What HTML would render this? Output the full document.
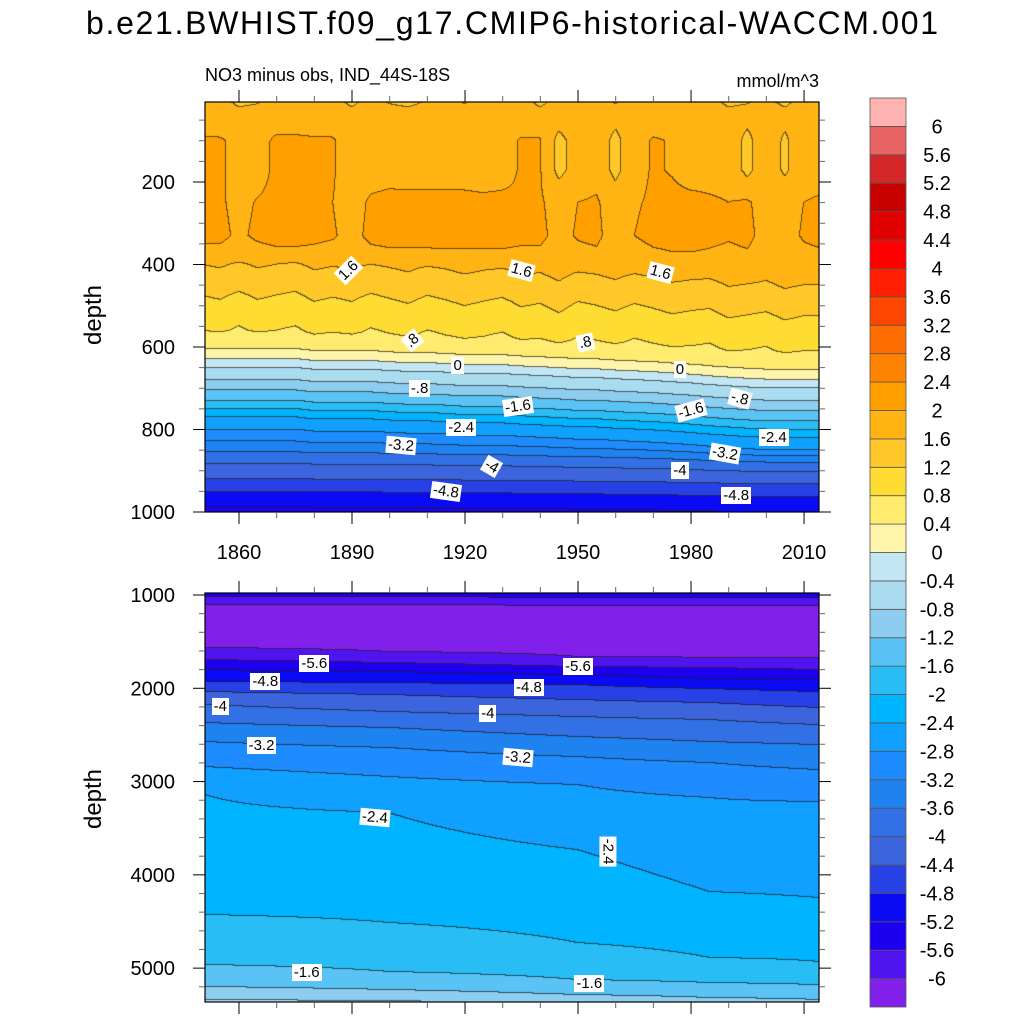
<!DOCTYPE html>
<html><head><meta charset="utf-8">
<style>
html,body{margin:0;padding:0;background:#fff;}
#root{position:relative;width:1024px;height:1024px;overflow:hidden;font-family:"Liberation Sans",sans-serif;}
canvas{position:absolute;}
.lbl{position:absolute;background:#fff;font-size:15px;line-height:15px;padding:1px 2px;color:#000;transform-origin:center center;white-space:nowrap;}
svg{position:absolute;left:0;top:0;}
</style></head>
<body>
<div id="root">
<canvas id="topCanvas" width="614" height="410" style="left:205px;top:102px"></canvas>
<canvas id="botCanvas" width="614" height="409" style="left:205px;top:593px"></canvas>
<svg id="ov" width="1024" height="1024">
<text x="512" y="34" font-size="32" text-anchor="middle" textLength="852" font-family="Liberation Sans, sans-serif">b.e21.BWHIST.f09_g17.CMIP6-historical-WACCM.001</text>
<text x="205" y="81" font-size="18" font-family="Liberation Sans, sans-serif">NO3 minus obs, IND_44S-18S</text>
<text x="819" y="87" font-size="18" text-anchor="end" font-family="Liberation Sans, sans-serif">mmol/m^3</text>
<text transform="translate(101,315) rotate(-90)" font-size="24" text-anchor="middle" font-family="Liberation Sans, sans-serif">depth</text>
<text transform="translate(101,799) rotate(-90)" font-size="24" text-anchor="middle" font-family="Liberation Sans, sans-serif">depth</text>
</svg>
</div>
<script>
// ---------- colour scale ----------
const levels=[-6,-5.6,-5.2,-4.8,-4.4,-4,-3.6,-3.2,-2.8,-2.4,-2,-1.6,-1.2,-0.8,-0.4,0,0.4,0.8,1.2,1.6,2,2.4,2.8,3.2,3.6,4,4.4,4.8,5.2,5.6,6];
const levelLabels=["-6","-5.6","-5.2","-4.8","-4.4","-4","-3.6","-3.2","-2.8","-2.4","-2","-1.6","-1.2","-0.8","-0.4","0","0.4","0.8","1.2","1.6","2","2.4","2.8","3.2","3.6","4","4.4","4.8","5.2","5.6","6"];
const bandColors=["#8220eb","#5014f0","#1e00f0","#0a0af5","#2841e6","#3c64dc","#3270e6","#1e82f0","#1e8cff","#10a0ff","#00b4ff","#28bef5","#5ac3f5","#8ccdf0","#aadcf0","#c3e6f5","#fff5aa","#ffeb6e","#ffdc32","#ffc828","#ffb414","#ffa000","#ff8200","#ff6e00","#ff4600","#ff1e00","#ff0000","#e00000","#c80000","#d42828","#e86464","#ffb2b2"];

// ---------- top panel data (0-1000 m) ----------
const topYears=[1850,1855,1860,1865,1870,1875,1880,1885,1890,1895,1900,1905,1910,1915,1920,1925,1930,1935,1940,1945,1950,1955,1960,1965,1970,1975,1980,1985,1990,1995,2000,2005,2010,2015];
const topNodeDepths=[5,40,100,170,250,330,370,400,475,560,605,629,650,680,705,730,750,770,800,829,855,883,920,951,988,1020];
const topNodeValues=[1.72,1.8,1.88,1.88,1.92,1.95,1.85,1.6,1.2,0.8,0.4,0,-0.4,-0.8,-1.2,-1.6,-2,-2.4,-2.8,-3.2,-3.6,-4,-4.4,-4.8,-5.2,-5.4];
const surfAnom=[0.1,0,-0.2,-0.15,0.05,0,0.05,0,-0.2,0,-0.15,-0.2,-0.1,0.05,-0.15,0.05,0,0,-0.2,0,0,0.05,-0.15,0,0.05,0,0.05,0,-0.2,-0.15,-0.05,-0.2,0,-0.1];
const upperAnom=[0.15,0.15,0.05,0,0.18,0.18,0.15,0.15,-0.05,0,0.02,0,0,0,0,-0.05,0,0.15,0.15,-0.4,-0.1,0,-0.4,0,0.15,0.1,0,0,0,-0.4,0,-0.35,0,0];
const lowerAnom=[0.12,0.12,0,0.1,0.15,0.15,0.12,0.08,-0.05,0.12,0.15,0.15,0.15,0.15,0.15,0.15,0.15,0.12,0.12,-0.05,0.08,0.12,-0.1,0.05,0.12,0.15,0.15,0.12,0.08,0.12,-0.05,-0.05,0.08,0.12];
const midAnom=[0,0.05,-0.05,0.05,0,-0.05,0.05,0,0.05,-0.05,0,0.05,-0.05,0,0.05,0,-0.05,0.05,0,0.1,-0.05,0,0.05,-0.05,0,0.05,0,-0.05,0.05,0,-0.05,0.05,0,0];
const thermoShift=[0,0,0,0,0,0,5,5,5,5,8,10,10,12,15,15,15,18,20,22,25,25,28,30,32,35,38,42,45,48,50,50,50,50];
const shiftWeight=[0,0,0,0,0,0,0.5,1,1,1,1,1,1,1,1,1,1,1,1,0.7,0.5,0.4,0.25,0.25,0.25,0.25];

// ---------- bottom panel data (1000-5400 m) ----------
const botYears=[1851,1900,1950,1985,2014];
const botNodeValues=[-5.3,-5.6,-6.0,-6.3,-6.0,-5.6,-5.2,-4.8,-4.4,-4.0,-3.6,-3.2,-2.8,-2.4,-2.0,-1.6,-1.2,-0.8];
const depths1851=[980,1021,1107,1322,1568,1697,1804,1933,2040,2179,2372,2576,2844,3144,4430,4966,5202,5341];
const depths1900=[980,1025,1110,1340,1611,1729,1825,1943,2072,2254,2426,2640,2951,3337,4516,5041,5234,5352];
const depths1950=[980,1028,1113,1360,1665,1772,1858,1965,2126,2308,2522,2737,3037,3734,4731,5127,5288,5380];
const depths1985=[980,1030,1115,1370,1675,1783,1900,2008,2158,2340,2576,2801,3176,4184,4891,5159,5320,5395];
const depths2014=[980,1032,1118,1375,1675,1804,1911,2040,2211,2394,2608,2876,3219,4248,4934,5181,5341,5449];
const botDepthCols=[depths1851,depths1900,depths1950,depths1985,depths2014];

// ---------- axis tick data ----------
const xMajorYears=[1860,1890,1920,1950,1980,2010];
const topDepthTicks=[200,400,600,800,1000];
const botDepthTicks=[1000,2000,3000,4000,5000];

// contour label annotations [text, year, depth, angle]
const topLabels=[["1.6",1889,415,-45],["1.6",1935,415,15],["1.6",1972,420,15],[".8",1906,585,-40],[".8",1952,590,-12],["0",1918,645,0],["0",1977,655,0],["-.8",1908,700,0],["-.8",1993,725,15],["-1.6",1934,745,-8],["-1.6",1980,755,-15],["-2.4",1919,795,0],["-2.4",2002,820,0],["-3.2",1903,838,5],["-3.2",1989,858,10],["-4",1927,890,30],["-4",1977,900,0],["-4.8",1915,950,8],["-4.8",1992,960,0]];
const botLabels=[["-5.6",1880,1730,0],["-5.6",1950,1770,0],["-4.8",1867,1930,0],["-4.8",1937,1990,0],["-4",1855,2190,0],["-4",1926,2270,0],["-3.2",1866,2610,0],["-3.2",1934,2740,5],["-2.4",1896,3380,5],["-2.4",1958,3750,90],["-1.6",1878,5045,0],["-1.6",1953,5160,0]];

// ---------- scales ----------
function xOfYear(y){return 239+(y-1860)*3.767;}
function yearOfX(x){return 1860+(x-239)/3.767;}
function yTop(d){return 99.5+d*0.4125;}
function dTop(y){return (y-99.5)/0.4125;}
function yBot(d){return 595+(d-1000)/10.72;}
function dBot(y){return 1000+(y-595)*10.72;}

function bandOf(v){let b=0;for(const l of levels){if(v>=l)b++;}return b;}
function hexRgb(h){return [parseInt(h.slice(1,3),16),parseInt(h.slice(3,5),16),parseInt(h.slice(5,7),16)];}
const rgbBands=bandColors.map(hexRgb);

function interpProfile(ds,vs,d){
  if(d<=ds[0])return vs[0];
  for(let k=0;k<ds.length-1;k++){
    if(d<=ds[k+1]){const t=(d-ds[k])/(ds[k+1]-ds[k]);return vs[k]+t*(vs[k+1]-vs[k]);}
  }
  const n=ds.length;const s=(vs[n-1]-vs[n-2])/(ds[n-1]-ds[n-2]);
  return vs[n-1]+(d-ds[n-1])*s;
}
function topColumn(j){
  const ds=[],vs=[];
  for(let k=0;k<topNodeDepths.length;k++){
    ds.push(topNodeDepths[k]+thermoShift[j]*shiftWeight[k]);
    let v=topNodeValues[k];
    if(k===0)v+=surfAnom[j];
    else if(k===1)v+=0.4*surfAnom[j];
    else if(k<=3)v+=upperAnom[j];
    else if(k<=5)v+=lowerAnom[j];
    else if(k===6)v+=0.7*lowerAnom[j];
    else if(k>=7&&k<=9)v+=midAnom[j];
    vs.push(v);
  }
  return [ds,vs];
}

function renderPanel(canvasId,x0,y0,W,H,yearsArr,colFn,depthFn){
  const cv=document.getElementById(canvasId);const ctx=cv.getContext('2d');
  const tables=yearsArr.map((yr,j)=>{const [ds,vs]=colFn(j);const t=new Float32Array(H);for(let r=0;r<H;r++){t[r]=interpProfile(ds,vs,depthFn(y0+r+0.5));}return t;});
  const bands=new Int16Array(W*H);
  for(let c=0;c<W;c++){
    const yr=yearOfX(x0+c+0.5);
    let j=0;while(j<yearsArr.length-2&&yr>yearsArr[j+1])j++;
    let t=(yr-yearsArr[j])/(yearsArr[j+1]-yearsArr[j]);t=Math.max(0,Math.min(1,t));
    const A=tables[j],B=tables[j+1];
    for(let r=0;r<H;r++){bands[r*W+c]=bandOf(A[r]*(1-t)+B[r]*t);}
  }
  const img=ctx.createImageData(W,H);
  for(let r=0;r<H;r++)for(let c=0;c<W;c++){
    const b=bands[r*W+c];let col=rgbBands[b];
    let edge=(c<W-1&&bands[r*W+c+1]!==b)||(r<H-1&&bands[(r+1)*W+c]!==b);
    const i=(r*W+c)*4;
    if(edge){img.data[i]=col[0]*0.3+20;img.data[i+1]=col[1]*0.3+20;img.data[i+2]=col[2]*0.3+20;}
    else{img.data[i]=col[0];img.data[i+1]=col[1];img.data[i+2]=col[2];}
    img.data[i+3]=255;
  }
  ctx.putImageData(img,0,0);
}
renderPanel('topCanvas',205,102,614,410,topYears,topColumn,dTop);
renderPanel('botCanvas',205,593,614,409,botYears,j=>[botDepthCols[j],botNodeValues],dBot);

// ---------- overlay ----------
const NS='http://www.w3.org/2000/svg';
const ov=document.getElementById('ov');
function mk(tag,attrs){const e=document.createElementNS(NS,tag);for(const k in attrs)e.setAttribute(k,attrs[k]);ov.appendChild(e);return e;}

function frame(y0,y1,name){
  const r=mk('rect',{x:205,y:y0,width:614,height:y1-y0,fill:'none',stroke:'#000','stroke-width':1.2});
  
  
}
frame(102,512,'top-plot-frame');
frame(593,1002,'bottom-plot-frame');

for(let yr=1860;yr<=2010;yr+=10){
  const x=xOfYear(yr);const major=xMajorYears.includes(yr);const L=major?12:6;
  for(const [ya,dir] of [[102,-1],[512,1],[593,-1],[1002,1]]){
    const t=mk('line',{x1:x,x2:x,y1:ya,y2:ya+dir*L,stroke:major?'#000':'#666','stroke-width':1});
    
    
  }
}
xMajorYears.forEach(yr=>{
  const t=mk('text',{x:xOfYear(yr),y:559,'font-size':20,'text-anchor':'middle','font-family':'Liberation Sans, sans-serif'});
  t.textContent=String(yr);
  
  
});
for(let d=50;d<=1000;d+=50){
  const y=yTop(d);const major=topDepthTicks.includes(d);const L=major?12:6;
  for(const [xa,dir] of [[205,-1],[819,1]]){
    const t=mk('line',{x1:xa,x2:xa+dir*L,y1:y,y2:y,stroke:major?'#000':'#666','stroke-width':1});
    
    
  }
}
topDepthTicks.forEach(d=>{
  const t=mk('text',{x:175,y:yTop(d)+7,'font-size':20,'text-anchor':'end','font-family':'Liberation Sans, sans-serif'});
  t.textContent=String(d);
  
  
});
for(let d=1000;d<=5300;d+=200){
  const y=yBot(d);const major=botDepthTicks.includes(d);const L=major?12:6;
  for(const [xa,dir] of [[205,-1],[819,1]]){
    const t=mk('line',{x1:xa,x2:xa+dir*L,y1:y,y2:y,stroke:major?'#000':'#666','stroke-width':1});
    
    
  }
}
botDepthTicks.forEach(d=>{
  const t=mk('text',{x:175,y:yBot(d)+7,'font-size':20,'text-anchor':'end','font-family':'Liberation Sans, sans-serif'});
  t.textContent=String(d);
  
  
});

const cbTop=98,cbBot=1007,cbX=870,cbW=36;
const boxH=(cbBot-cbTop)/bandColors.length;
for(let b=0;b<bandColors.length;b++){
  const y=cbBot-(b+1)*boxH;
  const r=mk('rect',{x:cbX,y:y,width:cbW,height:boxH,fill:bandColors[b],stroke:'#555','stroke-width':0.8});
  
  
}
levels.forEach((l,i)=>{
  const y=cbBot-(i+1)*boxH;
  const t=mk('text',{x:937,y:y+7,'font-size':20,'text-anchor':'middle','font-family':'Liberation Sans, sans-serif'});
  t.textContent=levelLabels[i];
  
  
});

const root=document.getElementById('root');
function addLabel(txt,x,y,ang,name){
  const d=document.createElement('div');d.className='lbl';d.textContent=txt;
  
  
  root.appendChild(d);
  const w=d.offsetWidth,h=d.offsetHeight;
  d.style.left=(x-w/2)+'px';d.style.top=(y-h/2)+'px';d.style.transform='rotate('+ang+'deg)';
}
topLabels.forEach(a=>addLabel(a[0],xOfYear(a[1]),yTop(a[2]),a[3],'top-contour-label'));
botLabels.forEach(a=>addLabel(a[0],xOfYear(a[1]),yBot(a[2]),a[3],'bottom-contour-label'));
</script>
</body></html>
